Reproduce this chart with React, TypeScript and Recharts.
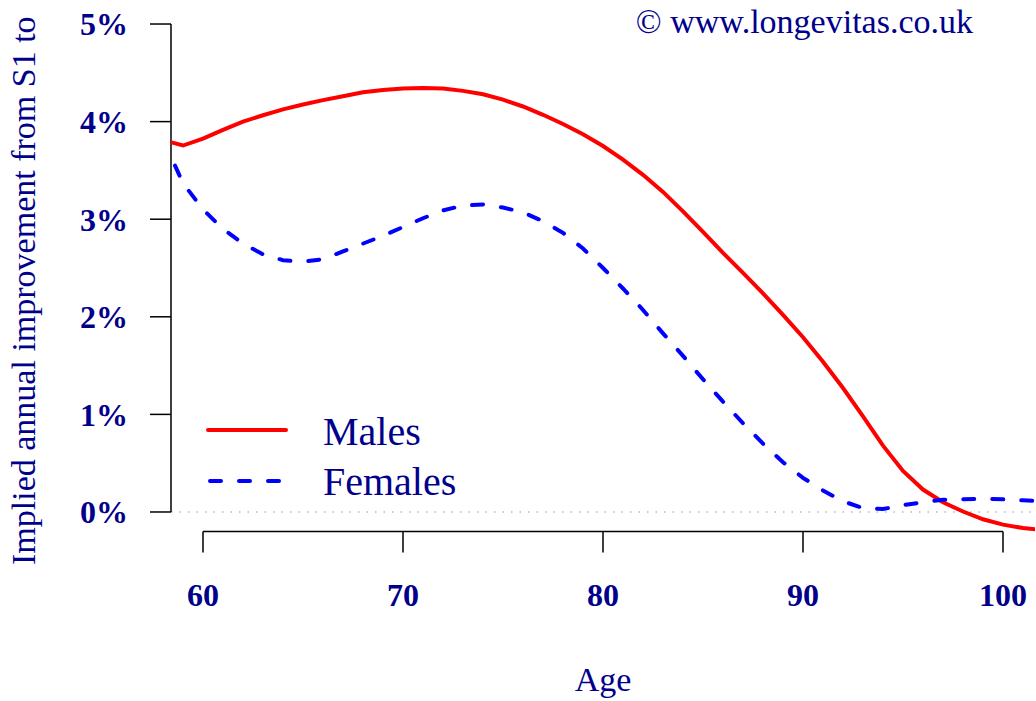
import React from 'react';
import { LineChart, Line, XAxis, YAxis, ReferenceLine, Legend, Customized } from 'recharts';

const AGES = [58, 59, 60, 61, 62, 63, 64, 65, 66, 67, 68, 69, 70, 71, 72, 73, 74, 75, 76, 77, 78, 79, 80,
  81, 82, 83, 84, 85, 86, 87, 88, 89, 90, 91, 92, 93, 94, 95, 96, 97, 98, 99, 100, 101, 102];

const MALES = [3.81, 3.755, 3.825, 3.915, 4.0, 4.065, 4.125, 4.175, 4.22, 4.26, 4.3, 4.325, 4.34, 4.345, 4.34,
  4.315, 4.28, 4.225, 4.155, 4.07, 3.975, 3.87, 3.75, 3.61, 3.455, 3.28, 3.08, 2.87, 2.655, 2.45, 2.24, 2.02, 1.79,
  1.54, 1.27, 0.98, 0.68, 0.42, 0.23, 0.1, 0.005, -0.075, -0.13, -0.165, -0.185];

const FEMALES = [3.82, 3.37, 3.1, 2.9, 2.75, 2.64, 2.58, 2.565, 2.59, 2.67, 2.75, 2.83, 2.92, 3.01, 3.09,
  3.14, 3.15, 3.12, 3.07, 2.98, 2.86, 2.7, 2.5, 2.29, 2.07, 1.83, 1.6, 1.36, 1.13, 0.91, 0.7, 0.51, 0.35,
  0.22, 0.11, 0.04, 0.03, 0.07, 0.1, 0.125, 0.13, 0.135, 0.13, 0.12, 0.11];

const X_TICKS = [60, 70, 80, 90, 100];
const Y_TICKS = [0, 1, 2, 3, 4, 5];

const data = AGES.map((age, i) => ({ age, males: MALES[i], females: FEMALES[i] }));

const NAVY = '#00008B';
const FONT = '"Liberation Serif", "Times New Roman", serif';
const DASH = '11 18';

const LegendBox = () => (
  <svg width={300} height={110} style={{ overflow: 'visible' }}>
    <line x1={8} x2={86} y1={30} y2={30} stroke="#FF0000" strokeWidth={4} strokeLinecap="round" />
    <line x1={10} x2={86} y1={81} y2={81} stroke="#0000FF" strokeWidth={4} strokeLinecap="round" strokeDasharray={DASH} />
    <text x={123} y={45} fontSize={40} fontFamily={FONT} fill={NAVY}>Males</text>
    <text x={123} y={95} fontSize={40} fontFamily={FONT} fill={NAVY}>Females</text>
  </svg>
);

// the y title runs off the top in the original, keep the visible part
const Texts = () => (
  <g>
    <text x={973} y={33} textAnchor="end" fontSize={34} fontFamily={FONT} fill={NAVY}>
      © www.longevitas.co.uk
    </text>
    <text x={35} y={565} textAnchor="start" fontSize={34} fontFamily={FONT} fill={NAVY}
      transform="rotate(-90 35 565)">
      Implied annual improvement from S1 to
    </text>
  </g>
);

const tickStyle = { fill: NAVY, fontSize: 32, fontWeight: 'bold', fontFamily: FONT };

export default function App() {
  return (
    <div style={{ position: 'absolute', left: 0, top: 0, width: 1036, height: 701, background: '#fff' }}>
      <LineChart width={1036} height={701} data={data} margin={{ top: 4.5, right: 1, bottom: 0, left: 0 }}>
        <XAxis dataKey="age" type="number" domain={[58.4, 101.6]} allowDataOverflow ticks={X_TICKS}
          height={169.5} axisLine={false} tickSize={21} tickMargin={31}
          tickLine={{ stroke: '#000', strokeWidth: 1.5 }} tick={tickStyle}
          label={{ value: 'Age', position: 'insideBottom', offset: 10, fontSize: 34, fontFamily: FONT, fill: NAVY }} />
        <YAxis type="number" domain={[-0.2, 5.2]} allowDataOverflow ticks={Y_TICKS} width={171}
          axisLine={false} tickSize={21} tickMargin={22} tickFormatter={(v) => `${v}%`}
          tickLine={{ stroke: '#000', strokeWidth: 1.5 }} tick={tickStyle} />
        <ReferenceLine y={0} stroke="#b8b8b8" strokeWidth={1.5} strokeDasharray="1.5 7" />
        <ReferenceLine segment={[{ x: 60, y: -0.2 }, { x: 100, y: -0.2 }]} stroke="#000" strokeWidth={1.5} ifOverflow="visible" />
        <ReferenceLine segment={[{ x: 58.4, y: 0 }, { x: 58.4, y: 5 }]} stroke="#000" strokeWidth={1.5} ifOverflow="visible" />
        <Line dataKey="males" type="linear" stroke="#FF0000" strokeWidth={4} dot={false} isAnimationActive={false} />
        <Line dataKey="females" type="linear" stroke="#0000FF" strokeWidth={4} strokeDasharray={DASH}
          strokeLinecap="round" dot={false} isAnimationActive={false} />
        <Legend layout="vertical" align="center" verticalAlign="middle" content={() => <LegendBox />}
          wrapperStyle={{ position: 'absolute', left: 200, top: 400, width: 300, height: 110 }} />
        <Customized component={Texts} />
      </LineChart>
    </div>
  );
}
